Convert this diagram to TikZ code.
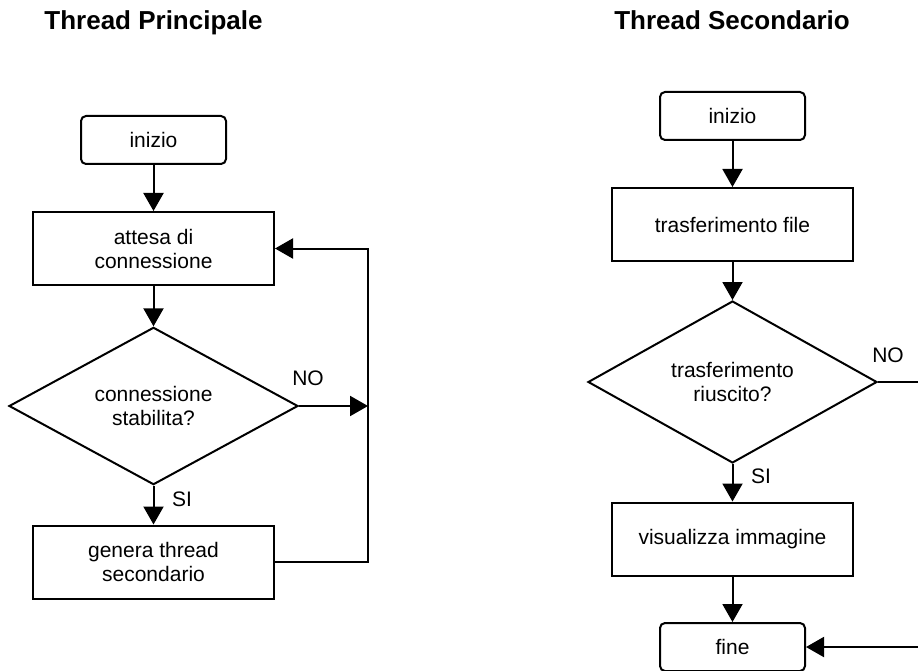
\documentclass[tikz,border=0pt]{standalone}
\usepackage{fontspec}
\setmainfont{Liberation Sans}
\usetikzlibrary{arrows.meta,shapes.geometric}
\begin{document}
\begin{tikzpicture}[x=1pt,y=-1pt,
  every node/.style={font=\fontsize{21}{24}\selectfont},
  box/.style={draw, line width=2pt, minimum width=241pt, minimum height=73pt, align=center, inner sep=0pt},
  term/.style={draw, line width=2pt, rounded corners=5pt, minimum width=145pt, minimum height=48pt, inner sep=0pt},
  dec/.style={draw, diamond, line width=2pt, minimum width=289pt, minimum height=143pt, inner sep=0pt, align=center},
  lbl/.style={inner sep=0pt},
  ttl/.style={font=\fontsize{26}{30}\selectfont\bfseries, anchor=base, inner sep=0pt},
  conn/.style={line width=2pt, -{Triangle[length=18pt,width=20pt]}},
  plainline/.style={line width=2pt}]
\useasboundingbox (0,0) rectangle (918,671);
\clip (0,0) rectangle (918,671);

% titles
\node[ttl] (t1) at (153.5,30) {Thread Principale};
\node[ttl] (t2t) at (732,30) {Thread Secondario};

% left flowchart
\node[term] (i1) at (153.5,140) {inizio};
\node[box] (a1) at (153.5,248.5) {attesa di\\connessione};
\node[dec] (d1) at (153.5,406) {connessione\\stabilita?};
\node[box] (g1) at (153.5,562) {genera thread\\secondario};
\coordinate (r1) at (368,406);
\coordinate (r1b) at (368,562);
\node[lbl] (no1) at (308,378) {NO};
\node[lbl] (si1) at (182,499) {SI};

\draw[conn] (i1) -- (a1);
\draw[conn] (a1) -- (d1);
\draw[conn] (d1) -- (g1);
\draw[conn] (d1.east) -- (r1);
\draw[conn] (g1.east) -- (r1b) -- (r1b |- a1.east) -- (a1.east);

% right flowchart
\node[term] (i2) at (732.5,116) {inizio};
\node[box] (t2) at (732.5,224.5) {trasferimento file};
\node[dec] (d2) at (732.5,382) {trasferimento\\riuscito?};
\node[box] (v2) at (732.5,539) {visualizza immagine};
\node[term] (f2) at (732.5,647) {fine};
\coordinate (r2) at (950,382);
\coordinate (r2b) at (950,647);
\node[lbl] (no2) at (888,355) {NO};
\node[lbl] (si2) at (761,476) {SI};

\draw[conn] (i2) -- (t2);
\draw[conn] (t2) -- (d2);
\draw[conn] (d2) -- (v2);
\draw[conn] (v2) -- (f2);
\draw[plainline] (d2.east) -- (r2) -- (r2b);
\draw[conn] (r2b) -- (f2.east);
\end{tikzpicture}
\end{document}
